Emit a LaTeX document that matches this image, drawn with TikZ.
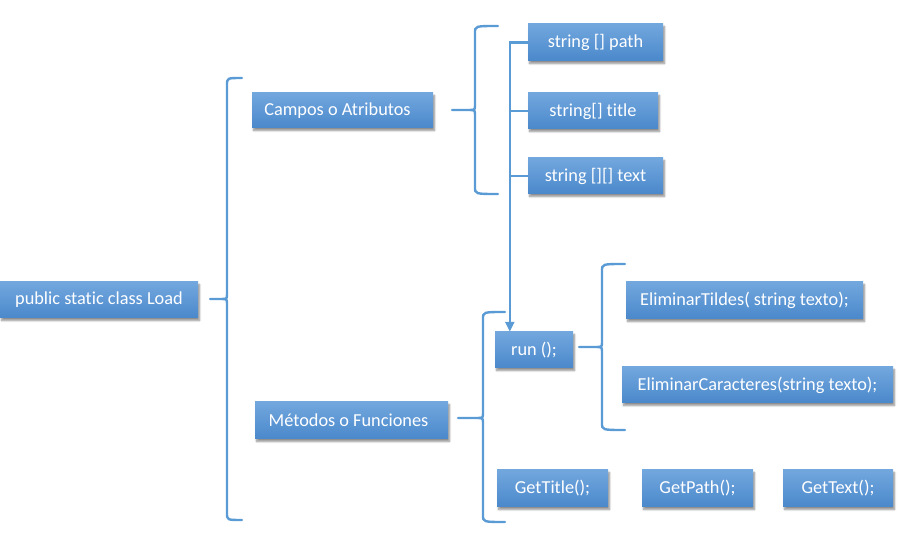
\documentclass[tikz,border=0pt]{standalone}
\usepackage{fontspec}
\setmainfont[RawFeature=-liga]{Carlito}
\usetikzlibrary{arrows.meta,shadows.blur}
\definecolor{boxtop}{HTML}{72A7DE}
\definecolor{boxbot}{HTML}{4A88CB}
\definecolor{linec}{HTML}{5B9BD5}
\tikzset{
  box/.style={rectangle, top color=boxtop, bottom color=boxbot, draw=none,
    text=white, font=\fontsize{18.3}{21}\selectfont, inner sep=0pt,
    blur shadow={shadow xshift=1.5pt, shadow yshift=-2.5pt, shadow blur steps=6, shadow opacity=45}},
  conn/.style={draw=linec, line width=2.4pt},
  brace/.style={draw=linec, line width=2.4pt, line cap=round},
}
% brace: hook x, vertical x, top y, tip y, bottom y, stem x
\newcommand{\mybrace}[6]{%
  \draw[brace] (#1,#3) .. controls (#2,#3) .. (#2,#3+7) -- (#2,#4-6)
    .. controls (#2,#4) .. (#2-5,#4) -- (#6,#4);
  \draw[brace] (#2-5,#4) .. controls (#2,#4) .. (#2,#4+6) -- (#2,#5-7)
    .. controls (#2,#5) .. (#1,#5);
}
\begin{document}
\begin{tikzpicture}[x=1pt,y=-1pt]
\useasboundingbox (0,0) rectangle (898,553);
\node[box, minimum width=198pt, minimum height=36pt] (load) at (99,300) {public static class Load};
\node[box, minimum width=181pt, minimum height=35pt] (campos) at (342.5,110.5) {\hspace*{-10pt}Campos o Atributos};
\node[box, minimum width=193pt, minimum height=37pt] (metodos) at (351.5,420.5) {\hspace*{-6pt}Métodos o Funciones};
\node[box, minimum width=135pt, minimum height=37pt] (path) at (595.5,42.5) {string [] path};
\node[box, minimum width=130pt, minimum height=36pt] (title) at (593,111) {string[] title};
\node[box, minimum width=135pt, minimum height=36pt] (text) at (595.5,176) {string [][] text};
\node[box, minimum width=78pt, minimum height=36pt] (run) at (534,350) {run ();};
\node[box, minimum width=237pt, minimum height=37pt] (tildes) at (744.5,300.5) {EliminarTildes( string texto);};
\node[box, minimum width=271pt, minimum height=36pt] (carac) at (757.5,385) {EliminarCaracteres(string texto);};
\node[box, minimum width=111pt, minimum height=37pt] (gettitle) at (552.5,488.5) {GetTitle();};
\node[box, minimum width=111pt, minimum height=37pt] (getpath) at (697.5,488.5) {GetPath();};
\node[box, minimum width=110pt, minimum height=37pt] (gettext) at (838,488.5) {GetText();};

\mybrace{242}{227}{78}{299}{520}{210}
\mybrace{498}{475}{26}{110}{194}{452}
\mybrace{505}{483}{312}{418}{522}{458}
\mybrace{625}{602}{264}{347}{430}{579}

\coordinate (rtop) at ([xshift=15pt]run.north west);
\draw[conn, -{Triangle[length=10pt,width=9pt]}] (path.west) -| (rtop);
\draw[conn] (title.west) -- (title.west -| rtop);
\draw[conn] (text.west) -- (text.west -| rtop);
\end{tikzpicture}
\end{document}
